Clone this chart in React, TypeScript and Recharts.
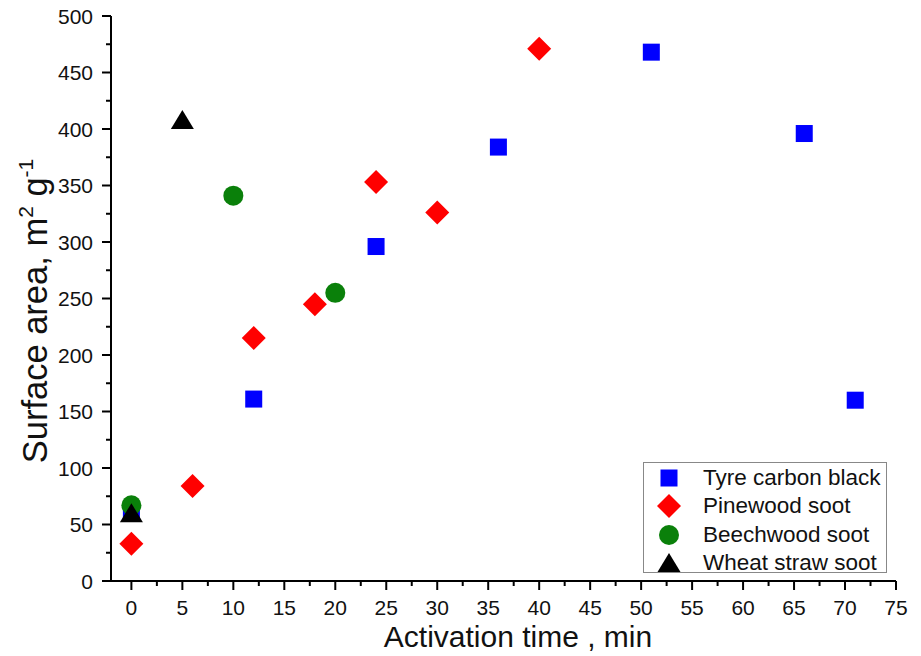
import React from 'react';
import { ScatterChart, Scatter, XAxis, YAxis } from 'recharts';

const tyreTime = [0, 12, 24, 36, 51, 66, 71];
const tyreArea = [60, 161, 296, 384, 468, 396, 160];
const pineTime = [0, 6, 12, 18, 24, 30, 40];
const pineArea = [33, 84, 215, 245, 353, 326, 471];
const beechTime = [0, 10, 20];
const beechArea = [67, 341, 255];
const wheatTime = [0, 5];
const wheatArea = [60, 408];

const xTicks = [0, 2.5, 5, 7.5, 10, 12.5, 15, 17.5, 20, 22.5, 25, 27.5, 30, 32.5, 35, 37.5, 40, 42.5, 45, 47.5, 50, 52.5, 55, 57.5, 60, 62.5, 65, 67.5, 70, 72.5, 75];
const yTicks = [0, 25, 50, 75, 100, 125, 150, 175, 200, 225, 250, 275, 300, 325, 350, 375, 400, 425, 450, 475, 500];
const seriesNames = ['Tyre carbon black', 'Pinewood soot', 'Beechwood soot', 'Wheat straw soot'];

const FONT = "Arial, 'Liberation Sans', sans-serif";
const BLUE = '#0000FF';
const RED = '#FF0000';
const GREEN = '#0A800A';
const BLACK = '#000000';

const zip = (xs: number[], ys: number[]) => xs.map((x, i) => ({ x, y: ys[i] }));

const Square = ({ cx, cy }: any) => <rect x={cx - 8.5} y={cy - 8.5} width={17} height={17} fill={BLUE} />;
const Diamond = ({ cx, cy }: any) => (
  <polygon points={`${cx},${cy - 12} ${cx + 12},${cy} ${cx},${cy + 12} ${cx - 12},${cy}`} fill={RED} />
);
const Circle = ({ cx, cy }: any) => <circle cx={cx} cy={cy} r={10} fill={GREEN} />;
const Triangle = ({ cx, cy }: any) => (
  <polygon points={`${cx},${cy - 10} ${cx + 11.5},${cy + 9} ${cx - 11.5},${cy + 9}`} fill={BLACK} />
);

const shapes = [Square, Diamond, Circle, Triangle];

const XTick = ({ x, y, payload }: any) => {
  const v = payload.value;
  const major = v % 5 === 0;
  return (
    <g>
      <line x1={x} x2={x} y1={y} y2={y + (major ? 9 : 5)} stroke="#000" strokeWidth={2} />
      {major && (
        <text x={x} y={y + 34} textAnchor="middle" fontSize={21} fontFamily={FONT} fill="#111">
          {v}
        </text>
      )}
    </g>
  );
};

const YTick = ({ x, y, payload }: any) => {
  const v = payload.value;
  const major = v % 50 === 0;
  return (
    <g>
      <line x1={x} x2={x - (major ? 9 : 5)} y1={y} y2={y} stroke="#000" strokeWidth={2} />
      {major && (
        <text x={x - 18} y={y} dy="0.36em" textAnchor="end" fontSize={21} fontFamily={FONT} fill="#111">
          {v}
        </text>
      )}
    </g>
  );
};

const XTitle = () => (
  <text x={518} y={647} textAnchor="middle" fontSize={30} fontFamily={FONT} fill="#111">
    Activation time , min
  </text>
);

const YTitle = () => (
  <text
    x={47}
    y={311}
    transform="rotate(-90, 47, 311)"
    textAnchor="middle"
    fontSize={34.5}
    fontFamily={FONT}
    fill="#111"
  >
    Surface area, m
    <tspan fontSize={21} dy={-14}>2</tspan>
    <tspan dy={14}> g</tspan>
    <tspan fontSize={21} dy={-14}>-1</tspan>
  </text>
);

const LegendBox = () => (
  <div
    style={{
      position: 'absolute',
      left: 643,
      top: 462,
      width: 242,
      height: 109,
      border: '1px solid #888',
      background: '#fff',
      fontFamily: FONT,
      fontSize: 22.5,
      color: '#111',
    }}
  >
    {seriesNames.map((name, i) => {
      const Shape = shapes[i];
      return (
        <div
          key={name}
          style={{ position: 'absolute', left: 0, top: 1 + i * 28.3, height: 28, display: 'flex', alignItems: 'center', whiteSpace: 'nowrap' }}
        >
          <svg width={52} height={28} style={{ display: 'block' }}>
            <Shape cx={25} cy={14} />
          </svg>
          <span style={{ marginLeft: 7, lineHeight: '28px' }}>{name}</span>
        </div>
      );
    })}
  </div>
);

export default function App() {
  return (
    <div style={{ position: 'absolute', left: 0, top: 0, width: 921, height: 656, background: '#fff' }}>
      <ScatterChart width={921} height={656} margin={{ top: 16, right: 25, bottom: 0, left: 0 }}>
        <XAxis
          type="number"
          dataKey="x"
          domain={[-2, 75]}
          ticks={xTicks}
          interval={0}
          tickSize={0}
          tickMargin={0}
          tickLine={false}
          tick={<XTick />}
          height={75}
          axisLine={{ stroke: '#000', strokeWidth: 2 }}
          allowDataOverflow
          label={<XTitle />}
        />
        <XAxis
          xAxisId="top"
          orientation="top"
          type="number"
          domain={[-2, 75]}
          tick={false}
          tickLine={false}
          height={0}
          axisLine={{ stroke: '#000', strokeWidth: 2 }}
        />
        <YAxis
          type="number"
          dataKey="y"
          domain={[0, 500]}
          ticks={yTicks}
          interval={0}
          tickSize={0}
          tickMargin={0}
          tickLine={false}
          tick={<YTick />}
          width={111}
          axisLine={{ stroke: '#000', strokeWidth: 2 }}
          allowDataOverflow
          label={<YTitle />}
        />
        <YAxis
          yAxisId="right"
          orientation="right"
          type="number"
          domain={[0, 500]}
          tick={false}
          tickLine={false}
          width={0}
          axisLine={{ stroke: '#000', strokeWidth: 2 }}
        />
        <Scatter name={seriesNames[0]} data={zip(tyreTime, tyreArea)} shape={Square} isAnimationActive={false} />
        <Scatter name={seriesNames[1]} data={zip(pineTime, pineArea)} shape={Diamond} isAnimationActive={false} />
        <Scatter name={seriesNames[2]} data={zip(beechTime, beechArea)} shape={Circle} isAnimationActive={false} />
        <Scatter name={seriesNames[3]} data={zip(wheatTime, wheatArea)} shape={Triangle} isAnimationActive={false} />
      </ScatterChart>
      <LegendBox />
    </div>
  );
}
